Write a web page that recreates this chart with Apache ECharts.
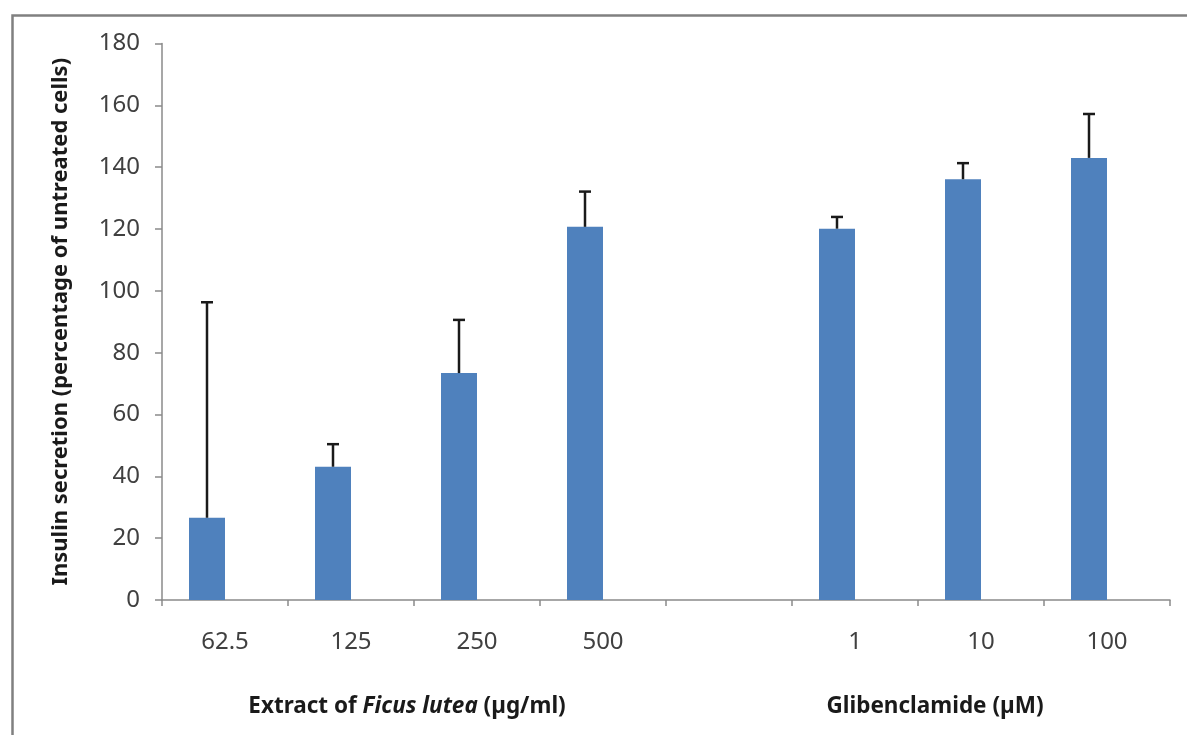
<!DOCTYPE html>
<html>
<head>
<meta charset="utf-8">
<script src="https://cdn.jsdelivr.net/npm/echarts@6/dist/echarts.min.js"></script>
<style>
html,body{margin:0;padding:0;background:#ffffff;}
#chart{width:1187px;height:735px;}
</style>
</head>
<body>
<div id="chart"></div>
<script>
const categories = ['62.5', '125', '250', '500', '', '1', '10', '100'];
const meanValues = [26.6, 43.1, 73.4, 120.7, null, 120.1, 136.1, 143.0];
const errorValues = [69.7, 7.3, 17.2, 11.4, null, 3.8, 5.2, 14.2];
const emptySeries = ['-', '-', '-', '-', '-', '-', '-', '-'];
const yTicks = { min: 0, max: 180, interval: 20 };
const yTitle = 'Insulin secretion (percentage of untreated cells)';

const BAR_W = 36;
const chart = echarts.init(document.getElementById('chart'));

const errData = categories.map((c, i) => meanValues[i] == null ? null : [i, meanValues[i], meanValues[i] + errorValues[i]]).filter(d => d);

chart.setOption({
  backgroundColor: '#ffffff',
  animation: false,
  grid: { left: 162, right: 17, top: 43.5, bottom: 135, containLabel: false },
  xAxis: {
    type: 'category',
    data: categories,
    axisLine: { lineStyle: { color: '#8a8a8a', width: 1.5 } },
    axisTick: { show: true, length: 6, lineStyle: { color: '#8a8a8a', width: 1.5 } },
    axisLabel: { color: '#404040', fontFamily: 'Noto Sans', fontSize: 24, margin: 30 },
    splitLine: { show: false }
  },
  yAxis: {
    type: 'value',
    min: yTicks.min, max: yTicks.max, interval: yTicks.interval,
    name: yTitle,
    nameLocation: 'middle',
    nameGap: 90,
    nameTextStyle: { color: '#1a1a1a', fontFamily: 'Noto Sans', fontWeight: 'bold', fontSize: 22 },
    axisLine: { show: true, lineStyle: { color: '#8a8a8a', width: 1.5 } },
    axisTick: { show: true, length: 7, lineStyle: { color: '#8a8a8a', width: 1.5 } },
    axisLabel: { color: '#404040', fontFamily: 'Noto Sans', fontSize: 24, margin: 22 },
    splitLine: { show: false }
  },
  series: [
    {
      type: 'bar', name: 'mean', data: meanValues.map(v => v == null ? '-' : v),
      barWidth: BAR_W, barGap: 0,
      itemStyle: { color: '#4f81bd' }
    },
    {
      type: 'bar', name: 'empty', data: emptySeries,
      barWidth: BAR_W, barGap: 0,
      itemStyle: { color: '#c0504d' }
    },
    {
      type: 'custom', name: 'error',
      data: errData,
      z: 5,
      renderItem: function (params, api) {
        const lo = api.coord([api.value(0), api.value(1)]);
        const hi = api.coord([api.value(0), api.value(2)]);
        const x = lo[0] - BAR_W / 2;
        const cap = 6;
        const style = { stroke: '#1a1a1a', lineWidth: 2.5 };
        return {
          type: 'group',
          children: [
            { type: 'line', shape: { x1: x, y1: lo[1], x2: x, y2: hi[1] }, style: style },
            { type: 'line', shape: { x1: x - cap, y1: hi[1], x2: x + cap, y2: hi[1] }, style: style }
          ]
        };
      }
    }
  ],
  graphic: [
    { type: 'rect', left: 10, top: 13, shape: { width: 1300, height: 900 }, style: { fill: 'none', stroke: '#808080', lineWidth: 2.5 }, silent: true },
    {
      type: 'text', x: 407, y: 707,
      style: {
        text: '{b|Extract of }{i|Ficus lutea}{b| (µg/ml)}',
        align: 'center', verticalAlign: 'middle',
        rich: {
          b: { fontFamily: 'Noto Sans', fontWeight: 'bold', fontSize: 22.5, fill: '#1a1a1a' },
          i: { fontFamily: 'Noto Sans', fontWeight: 'bold', fontStyle: 'italic', fontSize: 22.5, fill: '#1a1a1a' }
        }
      }
    },
    {
      type: 'text', x: 935, y: 707,
      style: {
        text: 'Glibenclamide (µM)',
        align: 'center', verticalAlign: 'middle',
        fontFamily: 'Noto Sans', fontWeight: 'bold', fontSize: 22.5, fill: '#1a1a1a'
      }
    }
  ]
});
</script>
</body>
</html>
